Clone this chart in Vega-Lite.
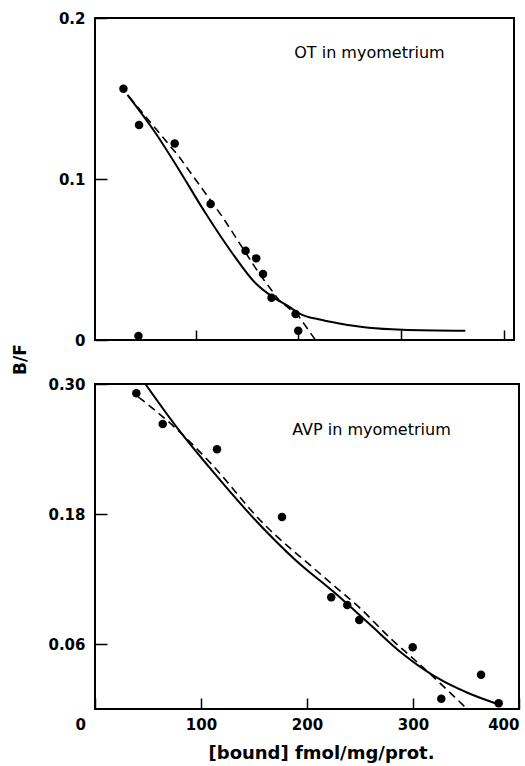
{
  "$schema": "https://vega.github.io/schema/vega-lite/v6.json",
  "padding": {"left": 10, "top": 10, "right": 6, "bottom": 2},
  "background": "white",
  "config": {
    "view": {"stroke": "black", "strokeWidth": 2},
    "axis": {
      "domain": false,
      "grid": false,
      "tickColor": "black",
      "tickWidth": 1.5,
      "labelColor": "black",
      "labelFont": "DejaVu Sans",
      "labelFontWeight": "bold",
      "labelFontSize": 15,
      "titleFont": "DejaVu Sans",
      "titleColor": "black"
    },
    "text": {"font": "DejaVu Sans"}
  },
  "datasets": {
    "top_pts": [
      {"x": 29.7, "y": 0.156}, {"x": 44.9, "y": 0.1335}, {"x": 79.6, "y": 0.122},
      {"x": 114.6, "y": 0.0845}, {"x": 148.6, "y": 0.0555}, {"x": 159, "y": 0.0507},
      {"x": 165.6, "y": 0.041}, {"x": 173.9, "y": 0.0263}, {"x": 197.3, "y": 0.0161},
      {"x": 199.9, "y": 0.0058}, {"x": 44.3, "y": 0.0025}
    ],
    "top_solid": [
      {"x": 33.6, "y": 0.1522}, {"x": 61.1, "y": 0.1284}, {"x": 83.9, "y": 0.1056},
      {"x": 109.7, "y": 0.0787}, {"x": 135.7, "y": 0.0539}, {"x": 158.4, "y": 0.0352},
      {"x": 174.6, "y": 0.0269}, {"x": 190.9, "y": 0.0207}, {"x": 200.6, "y": 0.0166},
      {"x": 223.2, "y": 0.0124}, {"x": 240, "y": 0.0103}, {"x": 268.6, "y": 0.0076},
      {"x": 301, "y": 0.0064}, {"x": 362.6, "y": 0.0058}
    ],
    "top_dash": [
      {"x": 35.2, "y": 0.1511}, {"x": 83.9, "y": 0.1138}, {"x": 126, "y": 0.0766},
      {"x": 161.7, "y": 0.0414}, {"x": 181.1, "y": 0.0248}, {"x": 200.6, "y": 0.0145},
      {"x": 216.7, "y": 0}
    ],
    "top_label": [{"x": 196, "y": 0.1785, "t": "OT in myometrium"}],
    "bot_pts": [
      {"x": 39, "y": 0.2915}, {"x": 63.9, "y": 0.263}, {"x": 115.1, "y": 0.2398},
      {"x": 176.4, "y": 0.1773}, {"x": 222.9, "y": 0.1031}, {"x": 238, "y": 0.096},
      {"x": 249.3, "y": 0.0822}, {"x": 299.7, "y": 0.057}, {"x": 326.7, "y": 0.0095},
      {"x": 364.2, "y": 0.0317}, {"x": 380.8, "y": 0.0053}
    ],
    "bot_solid": [
      {"x": 47.5, "y": 0.3}, {"x": 79, "y": 0.2576}, {"x": 107.3, "y": 0.2237},
      {"x": 151.2, "y": 0.1745}, {"x": 189, "y": 0.1376}, {"x": 226.7, "y": 0.1068},
      {"x": 258.2, "y": 0.0791}, {"x": 289.6, "y": 0.0514}, {"x": 321, "y": 0.0298},
      {"x": 352.5, "y": 0.0145}, {"x": 377.6, "y": 0.0053}
    ],
    "bot_dash": [
      {"x": 41, "y": 0.288}, {"x": 73, "y": 0.262}, {"x": 110, "y": 0.226},
      {"x": 158, "y": 0.172}, {"x": 205, "y": 0.131}, {"x": 230, "y": 0.11},
      {"x": 249, "y": 0.094}, {"x": 280, "y": 0.064}, {"x": 302, "y": 0.045},
      {"x": 334, "y": 0.016}, {"x": 351, "y": 0}
    ],
    "bot_label": [{"x": 186, "y": 0.2576, "t": "AVP in myometrium"}]
  },
  "vconcat": [
    {
      "width": 419,
      "height": 322,
      "encoding": {
        "x": {
          "field": "x", "type": "quantitative",
          "scale": {"domain": [2, 410], "nice": false, "zero": false},
          "axis": {"values": [100, 200, 300, 400], "labels": false, "tickSize": -10, "title": null}
        },
        "y": {
          "field": "y", "type": "quantitative",
          "scale": {"domain": [0, 0.2], "nice": false},
          "axis": {
            "values": [0, 0.1, 0.2], "tickSize": -12, "labelPadding": 22,
            "labelExpr": "datum.value == 0 ? '0' : format(datum.value, '.1f')",
            "title": "B/F", "titleFontSize": 17, "titleFontWeight": "bold",
            "titleX": -75, "titleY": 341, "titleAngle": -90,
            "titleAlign": "center", "titleBaseline": "middle"
          }
        }
      },
      "layer": [
        {
          "data": {"name": "top_solid"},
          "mark": {"type": "line", "color": "black", "strokeWidth": 2, "interpolate": "monotone", "clip": true}
        },
        {
          "data": {"name": "top_dash"},
          "mark": {"type": "line", "color": "black", "strokeWidth": 1.6, "strokeDash": [8, 5], "clip": true}
        },
        {
          "data": {"name": "top_pts"},
          "mark": {"type": "circle", "color": "black", "opacity": 1, "size": 72}
        },
        {
          "data": {"name": "top_label"},
          "mark": {"type": "text", "align": "left", "baseline": "middle", "fontSize": 16, "color": "black"},
          "encoding": {"text": {"field": "t"}}
        }
      ]
    },
    {
      "width": 424,
      "height": 325,
      "encoding": {
        "x": {
          "field": "x", "type": "quantitative",
          "scale": {"domain": [0, 400], "nice": false},
          "axis": {
            "values": [0, 100, 200, 300, 400], "tickSize": -11, "labelPadding": 19,
            "labelFlush": true,
            "labelOffset": {"condition": {"test": "datum.value == 0", "value": -20}, "value": 0},
            "title": "[bound] fmol/mg/prot.", "titleFontSize": 18, "titleFontWeight": "bold",
            "titleX": 226, "titleY": 44, "titleBaseline": "middle", "titleAlign": "center"
          }
        },
        "y": {
          "field": "y", "type": "quantitative",
          "scale": {"domain": [0, 0.3], "nice": false},
          "axis": {
            "values": [0.06, 0.18, 0.3], "tickSize": -12, "labelPadding": 22,
            "labelExpr": "format(datum.value, '.2f')",
            "title": null
          }
        }
      },
      "layer": [
        {
          "data": {"name": "bot_solid"},
          "mark": {"type": "line", "color": "black", "strokeWidth": 2, "interpolate": "monotone", "clip": true}
        },
        {
          "data": {"name": "bot_dash"},
          "mark": {"type": "line", "color": "black", "strokeWidth": 1.6, "strokeDash": [8, 5], "interpolate": "monotone", "clip": true}
        },
        {
          "data": {"name": "bot_pts"},
          "mark": {"type": "circle", "color": "black", "opacity": 1, "size": 72}
        },
        {
          "data": {"name": "bot_label"},
          "mark": {"type": "text", "align": "left", "baseline": "middle", "fontSize": 16, "color": "black"},
          "encoding": {"text": {"field": "t"}}
        }
      ]
    }
  ],
  "spacing": 44,
  "bounds": "flush",
  "resolve": {"scale": {"x": "independent", "y": "independent"}, "axis": {"x": "independent", "y": "independent"}}
}
